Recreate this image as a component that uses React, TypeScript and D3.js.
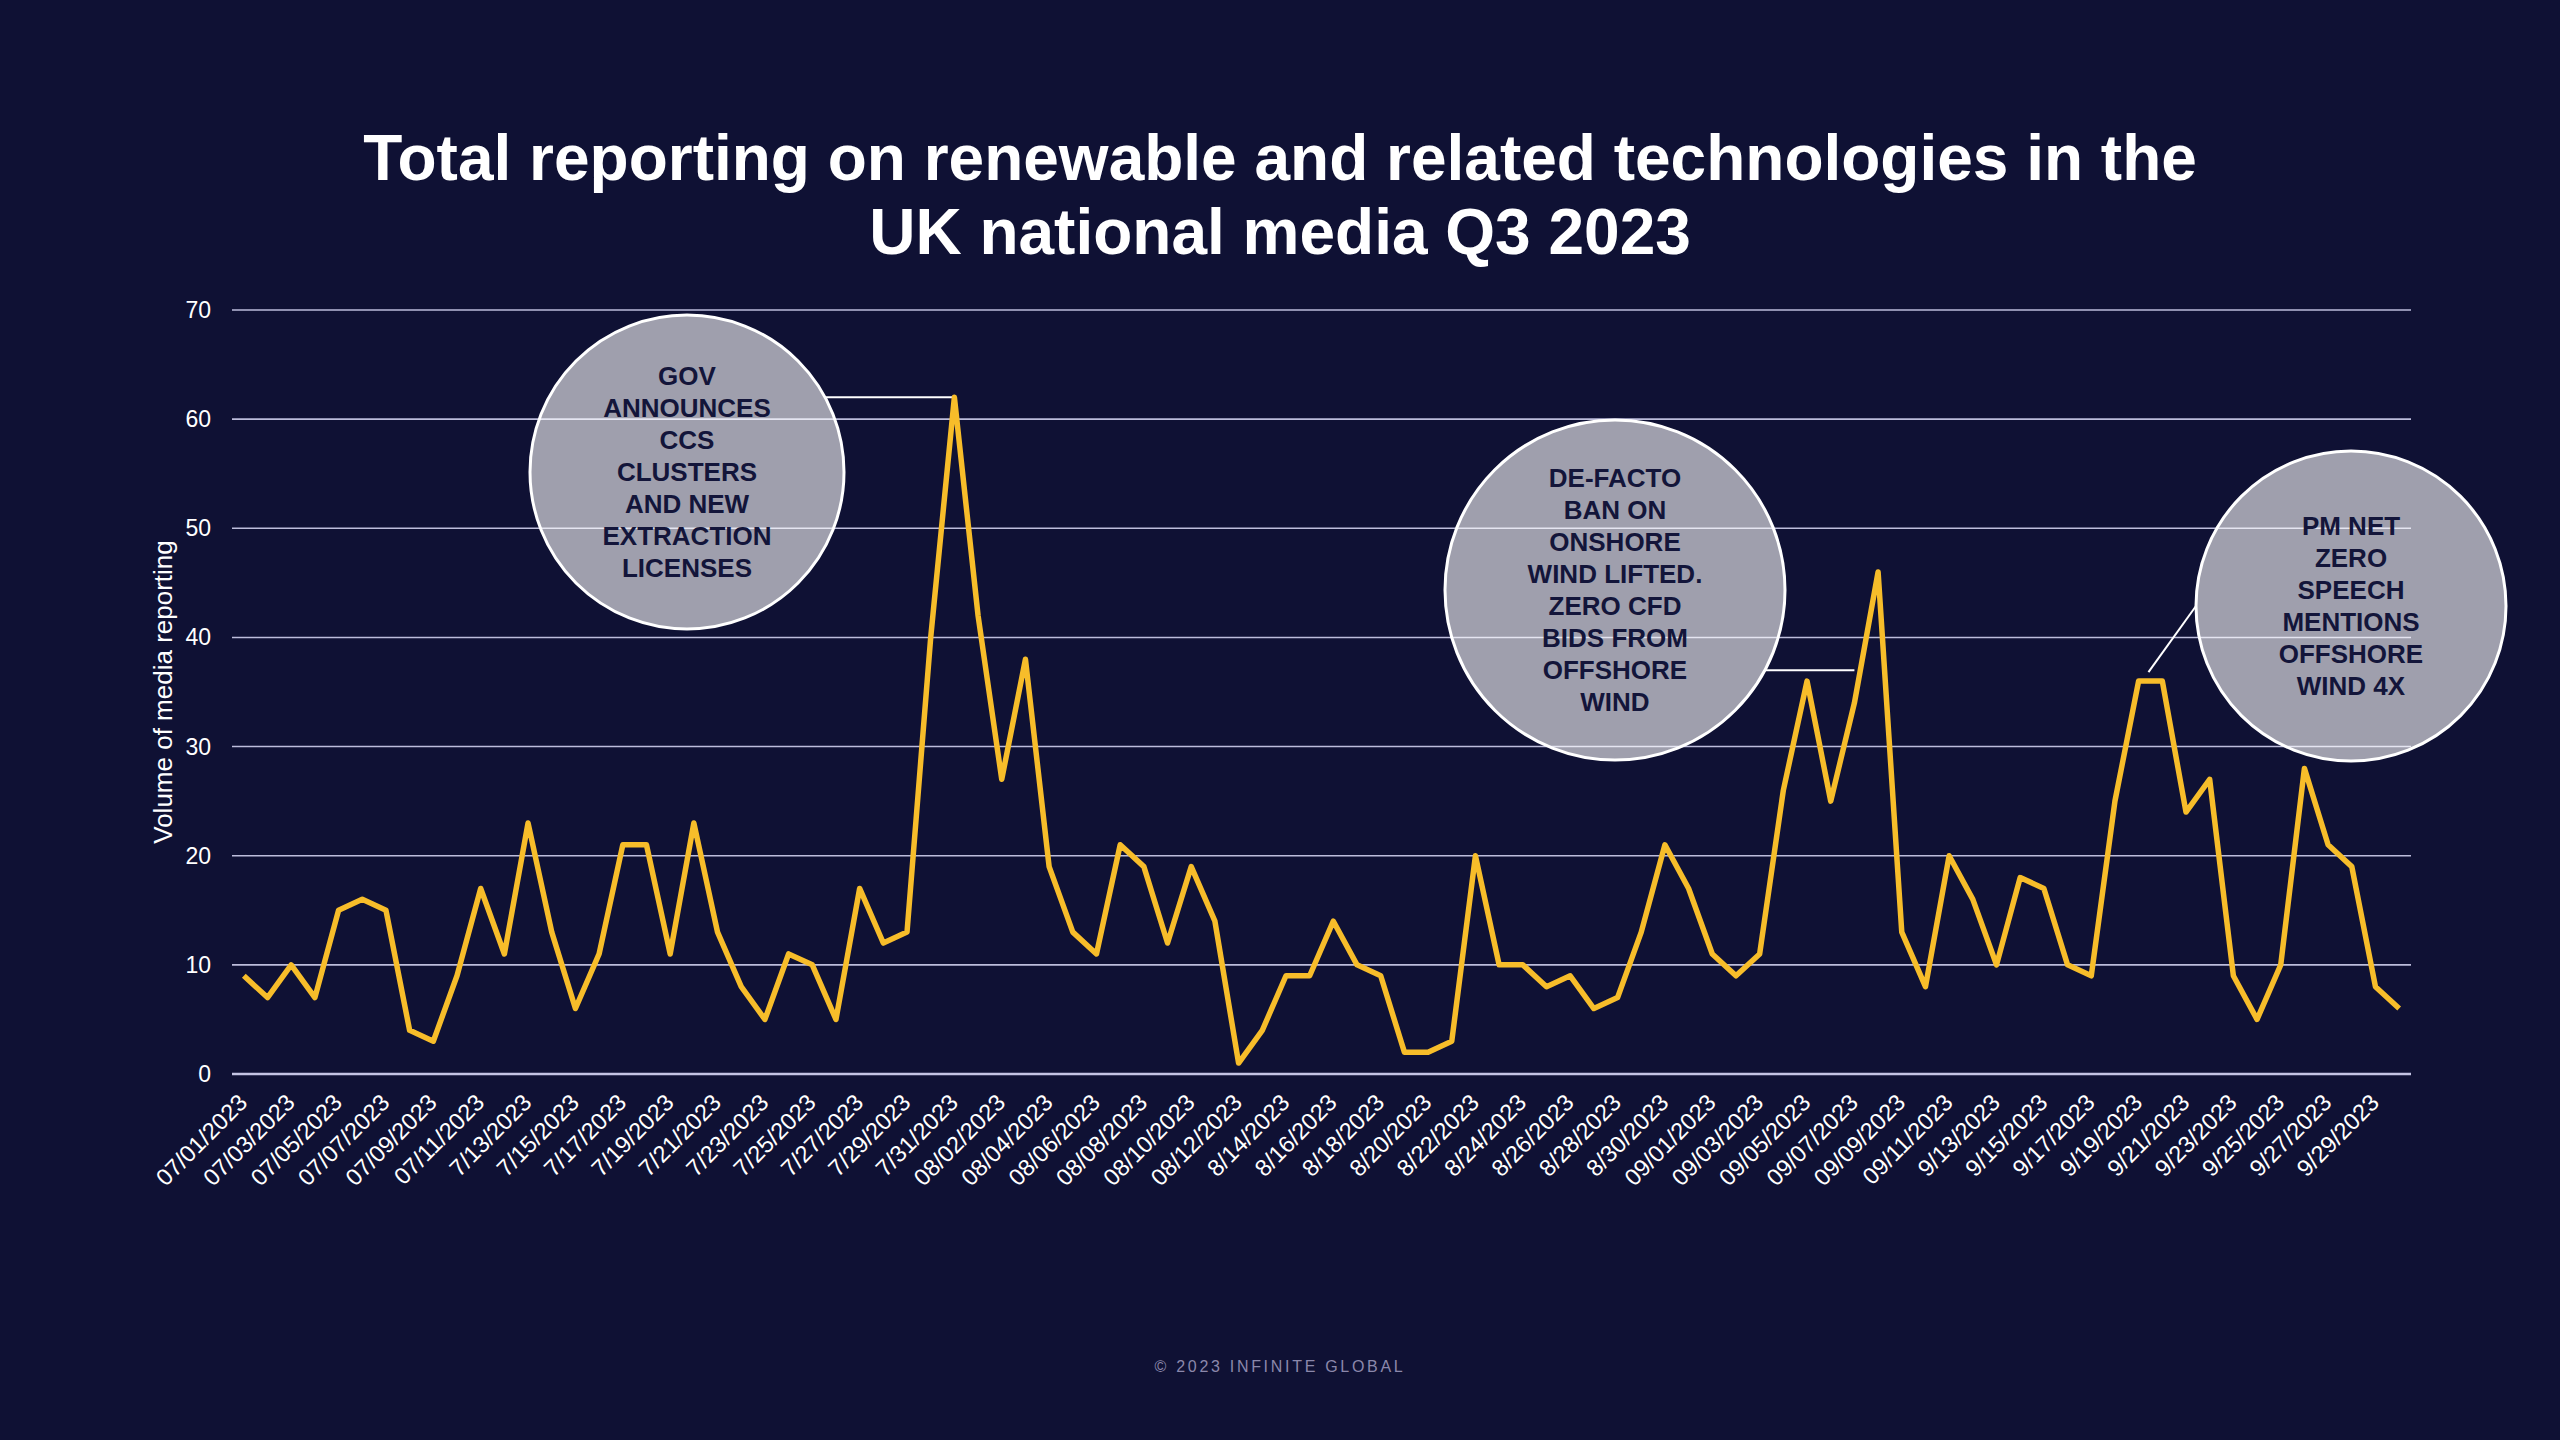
import * as d3 from 'd3';
import React, { useEffect } from 'react';

// daily volume of media reporting, 1 Jul - 30 Sep 2023
const julyValues = [9, 7, 10, 7, 15, 16, 15, 4, 3, 9, 17, 11, 23, 13, 6, 11, 21, 21, 11, 23, 13, 8, 5, 11, 10, 5, 17, 12, 13, 40, 62];
const augustValues = [42, 27, 38, 19, 13, 11, 21, 19, 12, 19, 14, 1, 4, 9, 9, 14, 10, 9, 2, 2, 3, 20, 10, 10, 8, 9, 6, 7, 13, 21, 17];
const septemberValues = [11, 9, 11, 26, 36, 25, 34, 46, 13, 8, 20, 16, 10, 18, 17, 10, 9, 25, 36, 36, 24, 27, 9, 5, 10, 28, 21, 19, 8, 6];

const tickLabels = [
    '07/01/2023', '07/03/2023', '07/05/2023', '07/07/2023', '07/09/2023', '07/11/2023', '7/13/2023', '7/15/2023',
    '7/17/2023', '7/19/2023', '7/21/2023', '7/23/2023', '7/25/2023', '7/27/2023', '7/29/2023', '7/31/2023',
    '08/02/2023', '08/04/2023', '08/06/2023', '08/08/2023', '08/10/2023', '08/12/2023', '8/14/2023', '8/16/2023',
    '8/18/2023', '8/20/2023', '8/22/2023', '8/24/2023', '8/26/2023', '8/28/2023', '8/30/2023', '09/01/2023',
    '09/03/2023', '09/05/2023', '09/07/2023', '09/09/2023', '09/11/2023', '9/13/2023', '9/15/2023', '9/17/2023',
    '9/19/2023', '9/21/2023', '9/23/2023', '9/25/2023', '9/27/2023', '9/29/2023',
];
const yTicks = [0, 10, 20, 30, 40, 50, 60, 70];

const annotationTexts = [
    ['GOV', 'ANNOUNCES', 'CCS', 'CLUSTERS', 'AND NEW', 'EXTRACTION', 'LICENSES'],
    ['DE-FACTO', 'BAN ON', 'ONSHORE', 'WIND LIFTED.', 'ZERO CFD', 'BIDS FROM', 'OFFSHORE', 'WIND'],
    ['PM NET', 'ZERO', 'SPEECH', 'MENTIONS', 'OFFSHORE', 'WIND 4X'],
];

const title = ['Total reporting on renewable and related technologies in the', 'UK national media Q3 2023'];

const values = [...julyValues, ...augustValues, ...septemberValues];
const days = d3.timeDay.range(new Date(2023, 6, 1), new Date(2023, 9, 1));

const W = 2560;
const H = 1440;
const bg = '#0f1134';
const lineColor = '#f7bd2a';
const font = 'Arial, "Liberation Sans", Helvetica, sans-serif';

export default function App() {
    useEffect(() => {
        document.body.style.margin = '0';
        document.body.style.background = bg;
    }, []);

    const x = d3
        .scalePoint<number>()
        .domain(days.map((d, i) => i))
        .range([232, 2411])
        .padding(0.5);
    const y = d3.scaleLinear().domain([0, 70]).range([1074, 310]);

    const line = d3
        .line<number>()
        .x((d, i) => x(i)!)
        .y((d) => y(d));

    // bubble layout (pixels)
    const bubbles = [
        { cx: 687, cy: 472, r: 157 },
        { cx: 1615, cy: 590, r: 170 },
        { cx: 2351, cy: 606, r: 155 },
    ];
    const lh = 32;

    const b0 = bubbles[0];
    const b1 = bubbles[1];
    const b2 = bubbles[2];
    const conn1y = y(62);
    const conn2y = y(37);
    const connectors = [
        { x1: b0.cx + Math.sqrt(b0.r * b0.r - (conn1y - b0.cy) ** 2), y1: conn1y, x2: x(30)!, y2: conn1y },
        { x1: b1.cx + Math.sqrt(b1.r * b1.r - (conn2y - b1.cy) ** 2), y1: conn2y, x2: x(68)!, y2: conn2y },
        { x1: (x(80)! + x(81)!) / 2 - 2, y1: y(36) - 9, x2: b2.cx - b2.r, y2: b2.cy },
    ];

    return (
        <svg width={W} height={H} style={{ display: 'block', background: bg }} fontFamily={font}>
            <rect width={W} height={H} fill={bg} />
            {title.map((t, i) => (
                <text key={t} x={1280} y={180 + i * 74} textAnchor="middle" fill="#ffffff" fontSize={64} fontWeight="bold">
                    {t}
                </text>
            ))}

            {yTicks.map((t) => (
                <g key={t}>
                    <line x1={232} x2={2411} y1={y(t)} y2={y(t)} stroke={t === 0 ? '#c4c4e4' : '#bdbddb'} strokeWidth={t === 0 ? 2.5 : 1.6} />
                    <text x={211} y={y(t)} dy="0.35em" textAnchor="end" fill="#ffffff" fontSize={23}>
                        {t}
                    </text>
                </g>
            ))}

            <text transform="translate(172,692) rotate(-90)" textAnchor="middle" fill="#ffffff" fontSize={26}>
                Volume of media reporting
            </text>

            {tickLabels.map((t, i) => (
                <text
                    key={t}
                    transform={`translate(${x(i * 2)! + 5},${1104}) rotate(-45)`}
                    textAnchor="end"
                    fill="#ffffff"
                    fontSize={23.5}
                >
                    {t}
                </text>
            ))}

            {bubbles.map((b, i) => (
                <g key={i}>
                    <circle cx={b.cx} cy={b.cy} r={b.r} fill="rgba(255,255,255,0.6)" stroke="#ffffff" strokeWidth={3} />
                    {annotationTexts[i].map((t, j) => (
                        <text
                            key={j}
                            x={b.cx}
                            y={b.cy + (j - (annotationTexts[i].length - 1) / 2) * lh}
                            dy="0.36em"
                            textAnchor="middle"
                            fill="#13153a"
                            fontSize={26}
                            fontWeight="bold"
                        >
                            {t}
                        </text>
                    ))}
                </g>
            ))}

            {connectors.map((c, i) => (
                <line key={i} x1={c.x1} y1={c.y1} x2={c.x2} y2={c.y2} stroke="#ffffff" strokeWidth={2} />
            ))}

            <path d={line(values)!} fill="none" stroke={lineColor} strokeWidth={5.5} strokeLinejoin="round" />

            <text x={1280} y={1372} textAnchor="middle" fill="#8b88ab" fontSize={16} letterSpacing={2.7}>
                © 2023 INFINITE GLOBAL
            </text>
        </svg>
    );
}
